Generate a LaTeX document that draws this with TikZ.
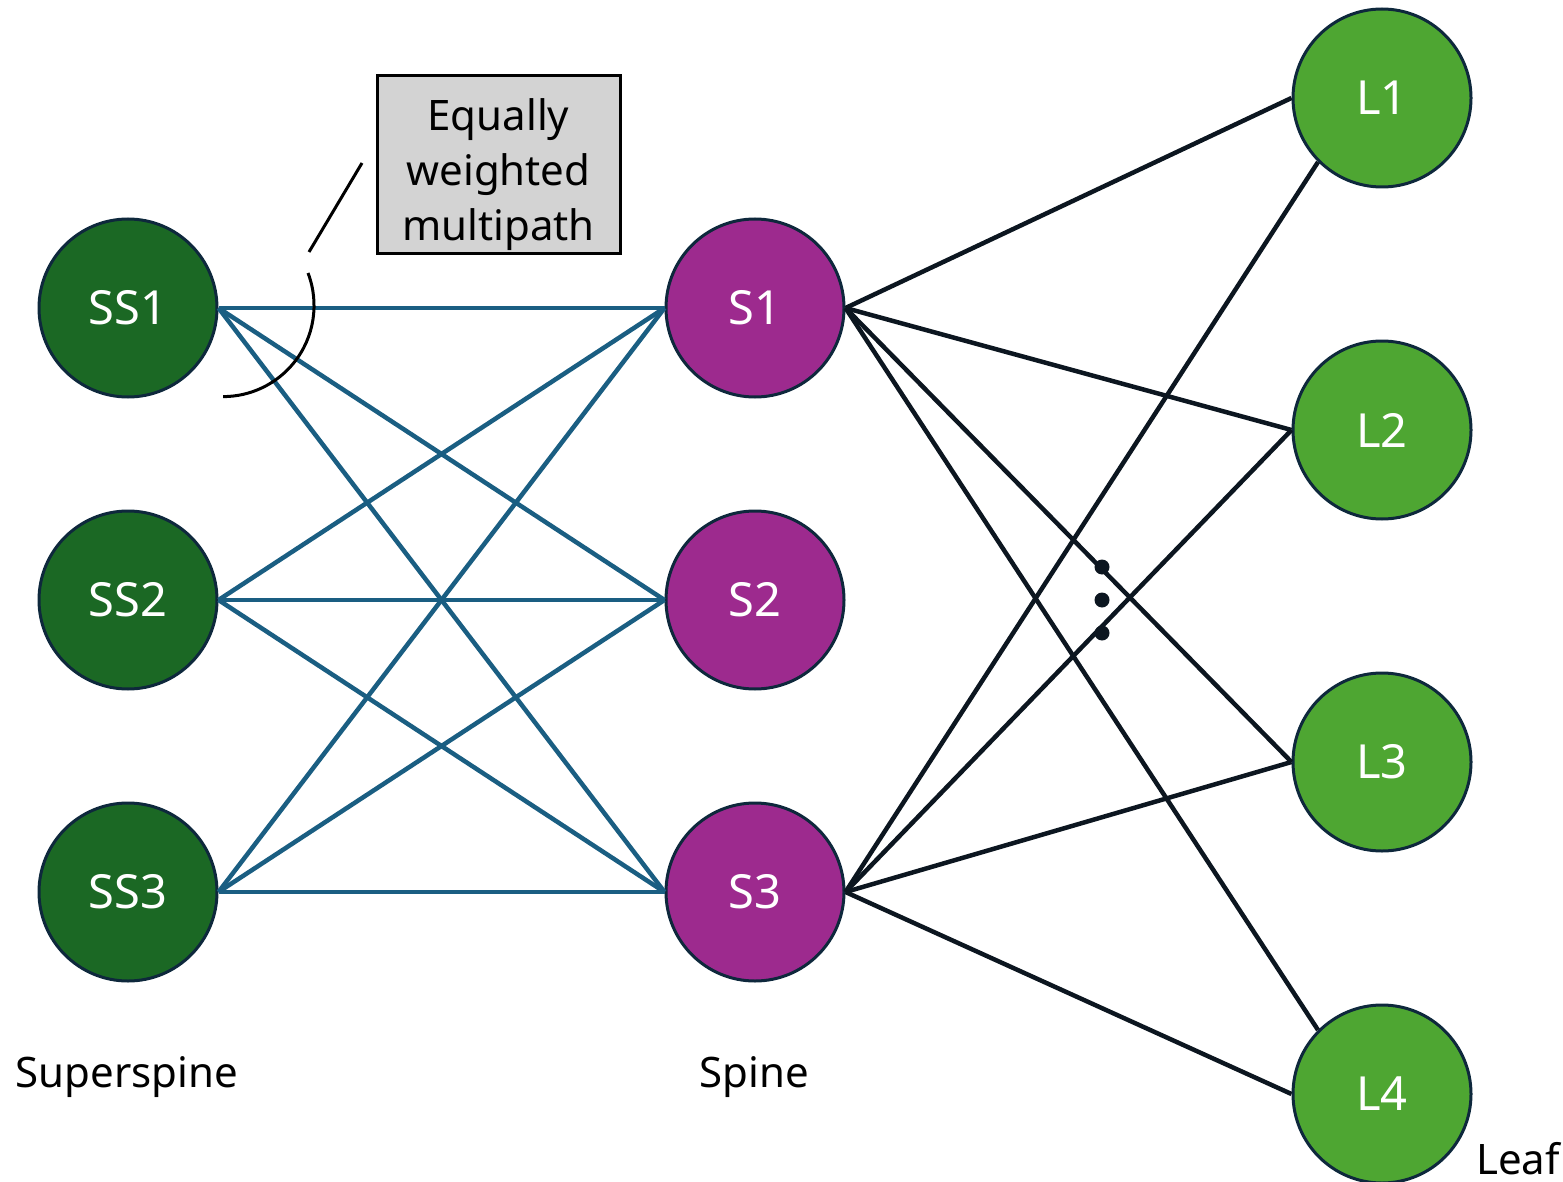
\documentclass[tikz,border=0pt]{standalone}
\usepackage{fontspec}
\setmainfont{Noto Sans}
\definecolor{ssgreen}{RGB}{27,104,36}
\definecolor{spurple}{RGB}{157,42,142}
\definecolor{lgreen}{RGB}{78,166,50}
\definecolor{rim}{RGB}{14,40,60}
\definecolor{bluelink}{RGB}{26,94,130}
\definecolor{darklink}{RGB}{12,22,32}
\definecolor{boxgray}{RGB}{211,211,211}
\begin{document}
\begin{tikzpicture}[x=1pt,y=-1pt,
  switch/.style={circle, draw=rim, line width=3pt, minimum size=178pt, inner sep=0pt,
    text=white, font=\fontsize{47}{50}\selectfont},
  ssnode/.style={switch, fill=ssgreen},
  snode/.style={switch, fill=spurple},
  lnode/.style={switch, fill=lgreen},
  upl/.style={draw=bluelink, line width=4.5pt},
  dnl/.style={draw=darklink, line width=4.5pt},
  tier/.style={font=\fontsize{42}{50}\selectfont, text=black, inner sep=0pt},
  callout/.style={draw=black, line width=3pt, fill=boxgray, minimum width=243pt, minimum height=178pt, inner sep=0pt},
  callouttext/.style={align=center, font=\fontsize{42}{55}\selectfont, inner sep=0pt}
]
\useasboundingbox (0,0) rectangle (1563,1182);

% nodes
\node[ssnode] (SS1) at (128,308) {SS1};
\node[ssnode] (SS2) at (128,600) {SS2};
\node[ssnode] (SS3) at (128,892) {SS3};
\node[snode] (S1) at (755,308) {S1};
\node[snode] (S2) at (755,600) {S2};
\node[snode] (S3) at (755,892) {S3};
\node[lnode] (L1) at (1382,98) {L1};
\node[lnode] (L2) at (1382,430) {L2};
\node[lnode] (L3) at (1382,762) {L3};
\node[lnode] (L4) at (1382,1094) {L4};

% superspine - spine links
\foreach \a in {SS1,SS2,SS3}
  \foreach \b in {S1,S2,S3}
    \path[upl] (\a.east) -- (\b.west);

% spine - leaf links
\path[dnl] (S1.east) -- (L1.west);
\path[dnl] (S1.east) -- (L2.west);
\path[dnl] (S1.east) -- (L3.west);
\path[dnl] (S1.east) -- (L4.north west);
\path[dnl] (S3.east) -- (L1.south west);
\path[dnl] (S3.east) -- (L2.west);
\path[dnl] (S3.east) -- (L3.west);
\path[dnl] (S3.east) -- (L4.west);

% ellipsis dots
\fill[darklink] (1102,567) circle[radius=7.5pt];
\fill[darklink] (1102,600) circle[radius=7.5pt];
\fill[darklink] (1102,633) circle[radius=7.5pt];

% callout
\node[callout] (note) at (498.5,165) {};
\node[callouttext] (notetext) at (498.5,175) {Equally\\weighted\\multipath};
\coordinate (leadA) at (362,163);
\coordinate (leadB) at (309,252);
\draw[black, line width=3pt] (leadA) -- (leadB);
\draw[black, line width=3pt] (308,273) arc[start angle=21, end angle=-90, radius=91pt];

% tier labels
\node[tier] (lblSS) at (127,1077) {Superspine};
\node[tier] (lblS) at (754,1077) {Spine};
\node[tier, anchor=west] (lblL) at (1476,1159) {Leaf};
\end{tikzpicture}
\end{document}
